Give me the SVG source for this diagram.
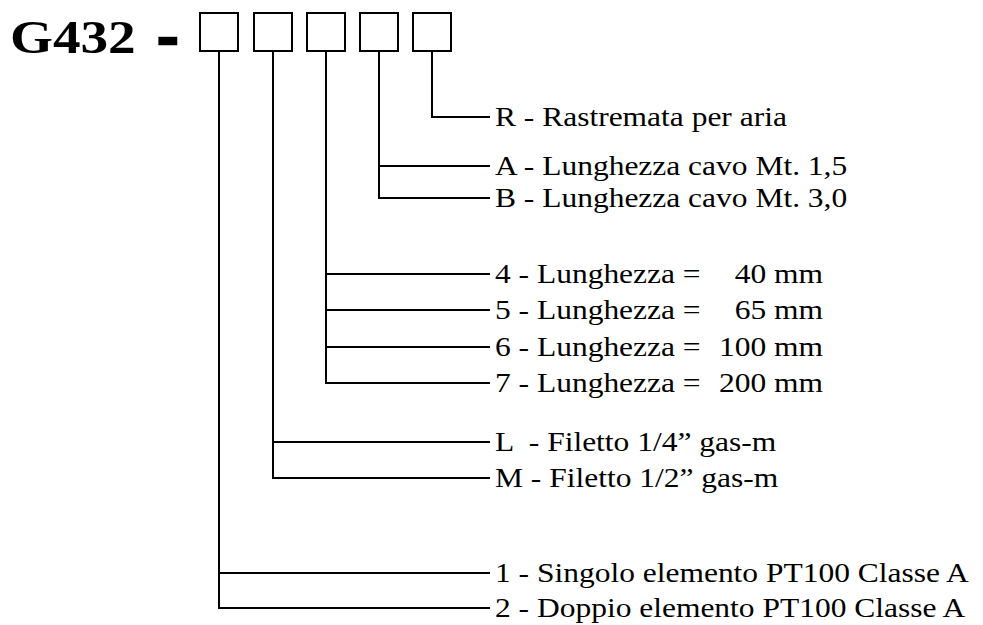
<svg xmlns="http://www.w3.org/2000/svg" width="983" height="625" viewBox="0 0 983 625">
<style>
.box{fill:none;stroke:#000;stroke-width:2}
.ln{fill:none;stroke:#000;stroke-width:2}
.lbl{font-family:"Liberation Serif","Times New Roman",serif;font-size:27.5px;fill:#000}
.ttl{font-family:"Liberation Serif","Times New Roman",serif;font-size:46px;font-weight:bold;fill:#000}
</style>
<rect width="983" height="625" fill="#fff"/>
<g id="title">
<text class="ttl" transform="translate(10 53) scale(1.2 1)">G432</text>
<text class="ttl" transform="translate(159 52) scale(1.15 1)" stroke="#000" stroke-width="4.5" stroke-linejoin="miter">-</text>
</g>
<g id="box1"><rect class="box" x="200" y="13" width="38" height="38"/></g>
<g id="box2"><rect class="box" x="254" y="13" width="38" height="38"/></g>
<g id="box3"><rect class="box" x="307" y="13" width="38" height="38"/></g>
<g id="box4"><rect class="box" x="360" y="13" width="38" height="38"/></g>
<g id="box5"><rect class="box" x="413" y="13" width="38" height="38"/></g>
<g id="connectors">
<path class="ln" d="M432 51V117H490"/>
<path class="ln" d="M379 51V198H490M379 166H490"/>
<path class="ln" d="M326 51V383H490M326 274H490M326 310H490M326 347H490"/>
<path class="ln" d="M273 51V478H490M273 442H490"/>
<path class="ln" d="M219 51V608H490M219 573H490"/>
</g>
<g id="opt-R"><text class="lbl" transform="translate(495 126) scale(1.145 1)">R - Rastremata per aria</text></g>
<g id="opt-A"><text class="lbl" transform="translate(495 175) scale(1.145 1)">A - Lunghezza cavo Mt. 1,5</text></g>
<g id="opt-B"><text class="lbl" transform="translate(495 207) scale(1.145 1)">B - Lunghezza cavo Mt. 3,0</text></g>
<g id="opt-4"><text class="lbl" transform="translate(495 283) scale(1.145 1)">4 - Lunghezza = <tspan x="286.5" text-anchor="end">40 mm</tspan></text></g>
<g id="opt-5"><text class="lbl" transform="translate(495 319) scale(1.145 1)">5 - Lunghezza = <tspan x="286.5" text-anchor="end">65 mm</tspan></text></g>
<g id="opt-6"><text class="lbl" transform="translate(495 356) scale(1.145 1)">6 - Lunghezza = <tspan x="286.5" text-anchor="end">100 mm</tspan></text></g>
<g id="opt-7"><text class="lbl" transform="translate(495 392) scale(1.145 1)">7 - Lunghezza = <tspan x="286.5" text-anchor="end">200 mm</tspan></text></g>
<g id="opt-L"><text class="lbl" xml:space="preserve" transform="translate(495 451) scale(1.145 1)">L  - Filetto 1/4” gas-m</text></g>
<g id="opt-M"><text class="lbl" transform="translate(495 487) scale(1.145 1)">M - Filetto 1/2” gas-m</text></g>
<g id="opt-1"><text class="lbl" transform="translate(495 582) scale(1.145 1)">1 - Singolo elemento PT100 Classe A</text></g>
<g id="opt-2"><text class="lbl" transform="translate(495 617) scale(1.145 1)">2 - Doppio elemento PT100 Classe A</text></g>
</svg>
